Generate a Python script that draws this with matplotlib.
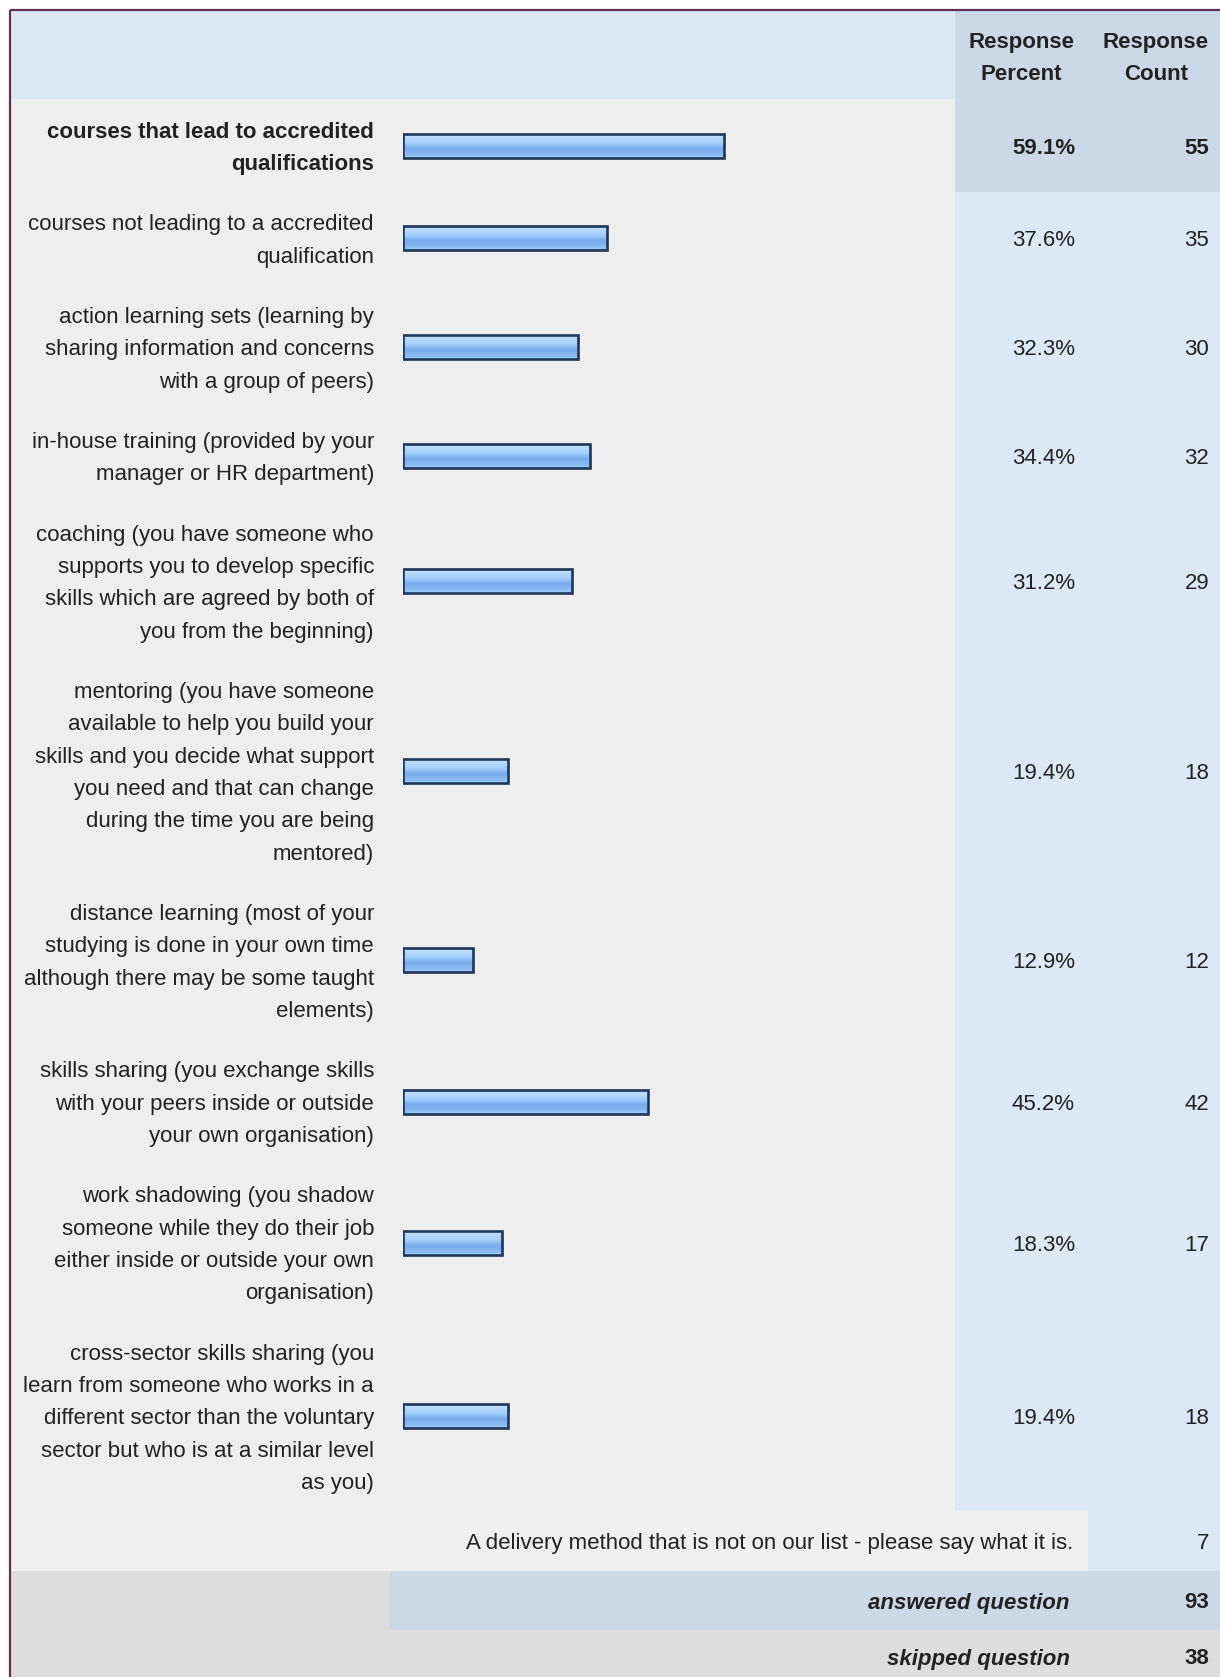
import numpy as np
import matplotlib
matplotlib.use("Agg")
import matplotlib.pyplot as plt
from matplotlib.patches import Rectangle
from matplotlib.colors import LinearSegmentedColormap

# ---------------- data ----------------
categories = [
    ["courses that lead to accredited", "qualifications"],
    ["courses not leading to a accredited", "qualification"],
    ["action learning sets (learning by", "sharing information and concerns", "with a group of peers)"],
    ["in-house training (provided by your", "manager or HR department)"],
    ["coaching (you have someone who", "supports you to develop specific",
     "skills which are agreed by both of", "you from the beginning)"],
    ["mentoring (you have someone", "available to help you build your",
     "skills and you decide what support", "you need and that can change",
     "during the time you are being", "mentored)"],
    ["distance learning (most of your", "studying is done in your own time",
     "although there may be some taught", "elements)"],
    ["skills sharing (you exchange skills", "with your peers inside or outside",
     "your own organisation)"],
    ["work shadowing (you shadow", "someone while they do their job",
     "either inside or outside your own", "organisation)"],
    ["cross-sector skills sharing (you", "learn from someone who works in a",
     "different sector than the voluntary", "sector but who is at a similar level",
     "as you)"],
]
response_percent = [59.1, 37.6, 32.3, 34.4, 31.2, 19.4, 12.9, 45.2, 18.3, 19.4]
response_count = [55, 35, 30, 32, 29, 18, 12, 42, 17, 18]
header_labels = [["Response", "Percent"], ["Response", "Count"]]
other_label = "A delivery method that is not on our list - please say what it is."
other_count = 7
answered_label = "answered question"
answered_count = 93
skipped_label = "skipped question"
skipped_count = 38

# ---------------- layout ----------------
W, H = 1220, 1677
fig = plt.figure(figsize=(W / 100, H / 100), dpi=100)
fig.patch.set_facecolor("white")
ax = fig.add_axes([0, 0, 1, 1])
ax.set_xlim(0, W)
ax.set_ylim(H, 0)
ax.axis("off")

FONT = "Liberation Sans"
FS = 16
LINE = 32.35
PAD = 60.3

border_x, border_y = 10, 10
header_bot = 99.4
pct_x0, cnt_x0 = 955, 1088

C_HEAD = "#dde8f5"
C_HEAD_R = "#ccd8e6"
C_BODY = "#eeeeee"
C_RIGHT = "#dde8f6"
C_RIGHT_HI = "#ccd8e6"
C_GRAY = "#dddddd"
C_TEXT = "#222222"

def rect(x0, y0, x1, y1, c, z=0):
    ax.add_patch(Rectangle((x0, y0), x1 - x0, y1 - y0, facecolor=c, edgecolor="none", zorder=z))

# header
rect(border_x, border_y, W, header_bot, C_HEAD)
rect(pct_x0, border_y, W, header_bot, C_HEAD_R)
for cx, lines in zip([1021, 1156], header_labels):
    for i, t in enumerate(lines):
        ax.text(cx, 40 + i * 32, t, ha="center", va="center_baseline",
                fontsize=FS, fontweight="bold", family=FONT, color=C_TEXT, zorder=3)

# body rows
heights = [PAD + (len(l) - 1) * LINE for l in categories]
tops = header_bot + np.concatenate([[0], np.cumsum(heights)[:-1]])
centers = tops + np.array(heights) / 2
body_bot = tops[-1] + heights[-1]

rect(border_x, header_bot, pct_x0, body_bot, C_BODY)
rect(pct_x0, header_bot, W, body_bot, C_RIGHT)
imax = int(np.argmax(response_percent))
rect(pct_x0, tops[imax], W, tops[imax] + heights[imax], C_RIGHT_HI, 1)

for k, (lines, p, c) in enumerate(zip(categories, response_percent, response_count)):
    bold = "bold" if k == imax else "normal"
    n = len(lines)
    for i, t in enumerate(lines):
        y = centers[k] + (i - (n - 1) / 2) * LINE
        ax.text(374, y, t, ha="right", va="center_baseline", fontsize=FS,
                family=FONT, fontweight=bold, color=C_TEXT, zorder=3)
    ax.text(1075, centers[k], f"{p:.1f}%", ha="right", va="center_baseline",
            fontsize=FS, family=FONT, fontweight=bold, color=C_TEXT, zorder=3)
    ax.text(1209, centers[k], f"{c}", ha="right", va="center_baseline",
            fontsize=FS, family=FONT, fontweight=bold, color=C_TEXT, zorder=3)

# other row
o_top, o_bot = body_bot, 1571
rect(border_x, o_top, cnt_x0, o_bot, "#efefef")
rect(cnt_x0, o_top, W, o_bot, C_RIGHT)
oc = (o_top + o_bot) / 2
ax.text(1073, oc, other_label, ha="right", va="center_baseline", fontsize=FS,
        family=FONT, color=C_TEXT, zorder=3)
ax.text(1209, oc, f"{other_count}", ha="right", va="center_baseline", fontsize=FS,
        family=FONT, color=C_TEXT, zorder=3)

# answered row
a_top, a_bot = o_bot, 1630
rect(border_x, a_top, 390, a_bot, C_GRAY)
rect(390, a_top, W, a_bot, C_RIGHT_HI)
ac = (a_top + a_bot) / 2
ax.text(1070, ac, answered_label, ha="right", va="center_baseline", fontsize=FS,
        family=FONT, fontweight="bold", style="italic", color=C_TEXT, zorder=3)
ax.text(1209, ac, f"{answered_count}", ha="right", va="center_baseline", fontsize=FS,
        family=FONT, fontweight="bold", color=C_TEXT, zorder=3)

# skipped row
s_top = a_bot
rect(border_x, s_top, W, H, C_GRAY)
sc = (s_top + 1683) / 2
ax.text(1070, sc, skipped_label, ha="right", va="center_baseline", fontsize=FS,
        family=FONT, fontweight="bold", style="italic", color=C_TEXT, zorder=3)
ax.text(1209, sc, f"{skipped_count}", ha="right", va="center_baseline", fontsize=FS,
        family=FONT, fontweight="bold", color=C_TEXT, zorder=3)

# border
bc = "#5e2f57"
ax.plot([border_x, border_x], [H, border_y], color=bc, lw=1.6, zorder=5, solid_capstyle="butt")
ax.plot([border_x, W], [border_y, border_y], color=bc, lw=1.6, zorder=5, solid_capstyle="butt")

# ---------------- bars ----------------
bx0, bw = 403, 543  # pixel span for 0..100 %
bax = fig.add_axes([bx0 / W, 0, bw / W, 1])
bax.set_xlim(0, 100)
bax.set_ylim(H, 0)
bax.axis("off")
bax.patch.set_alpha(0)

BAR_H = 24
bars = bax.barh(centers, response_percent, height=BAR_H, left=0,
                facecolor="#8fbff5", edgecolor="#1e3658", linewidth=1.9, zorder=3)
cmap = LinearSegmentedColormap.from_list(
    "barg", [(0.0, "#c4e1ff"), (0.35, "#a6d0fb"), (0.5, "#8bbcf4"),
             (0.62, "#79aced"), (0.8, "#84b6f1"), (1.0, "#9cc9f8")])
grad = np.linspace(0, 1, 64).reshape(-1, 1)
for b, yc, p in zip(bars, centers, response_percent):
    im = bax.imshow(grad, cmap=cmap, aspect="auto",
                    extent=(0, p, yc + BAR_H / 2, yc - BAR_H / 2),
                    origin="upper", zorder=2, interpolation="bilinear")
    im.set_clip_path(b)
    b.set_facecolor("none")
bax.set_xlim(0, 100)
bax.set_ylim(H, 0)

fig.savefig("out.png", dpi=100, facecolor="white")
